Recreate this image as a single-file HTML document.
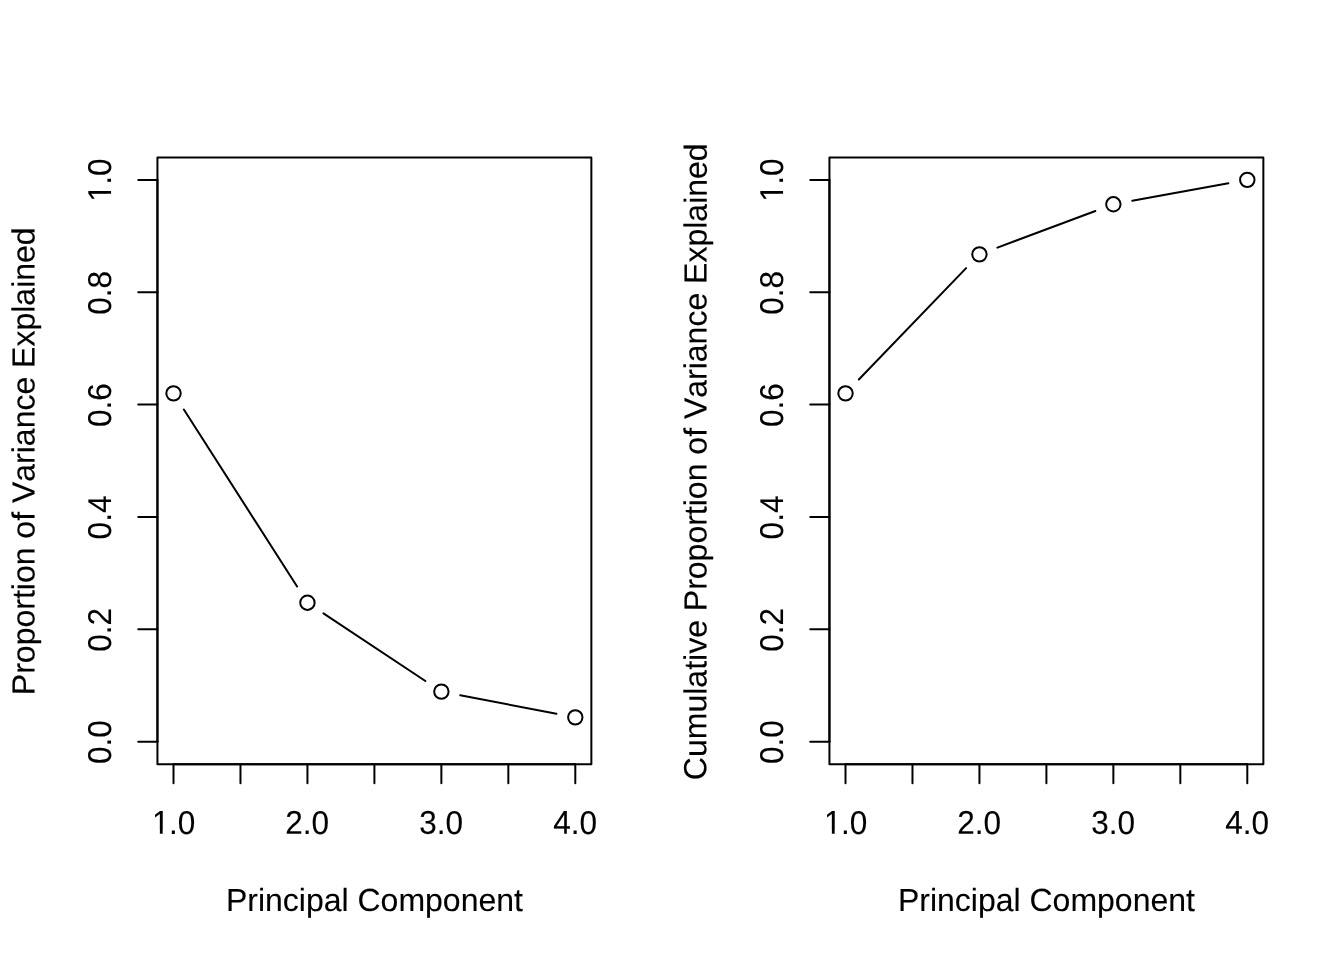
<!DOCTYPE html>
<html lang="en">
<head>
<meta charset="utf-8">
<title>Proportion of Variance Explained</title>
<style>
html,body{margin:0;padding:0;background:#fff;}
body{width:1344px;height:960px;overflow:hidden;}
svg{display:block;}
.g line,.g rect,.g circle{fill:none;stroke:#000;stroke-width:2;stroke-linecap:round;stroke-linejoin:round;}
.t .m{fill:#fff;stroke:none;}
.t text{font-family:"Liberation Sans",sans-serif;font-size:32px;fill:#000;text-anchor:middle;font-kerning:none;stroke:#000;stroke-width:0.1px;stroke-linejoin:round;}
</style>
</head>
<body>
<svg width="1344" height="960" viewBox="0 0 1344 960">
<rect width="1344" height="960" fill="#ffffff"/>
<g class="g">
<line x1="183.86" y1="409.53" x2="297.09" y2="586.51"/>
<line x1="323.43" y1="613.30" x2="425.37" y2="680.99"/>
<line x1="460.22" y1="695.23" x2="556.43" y2="713.71"/>
<circle cx="173.51" cy="393.35" r="7.2"/>
<circle cx="307.44" cy="602.68" r="7.2"/>
<circle cx="441.36" cy="691.61" r="7.2"/>
<circle cx="575.29" cy="717.33" r="7.2"/>
<line x1="173.51" y1="764.16" x2="575.29" y2="764.16"/>
<line x1="173.51" y1="764.16" x2="173.51" y2="783.36"/>
<line x1="240.47" y1="764.16" x2="240.47" y2="783.36"/>
<line x1="307.44" y1="764.16" x2="307.44" y2="783.36"/>
<line x1="374.40" y1="764.16" x2="374.40" y2="783.36"/>
<line x1="441.36" y1="764.16" x2="441.36" y2="783.36"/>
<line x1="508.33" y1="764.16" x2="508.33" y2="783.36"/>
<line x1="575.29" y1="764.16" x2="575.29" y2="783.36"/>
<line x1="157.44" y1="741.69" x2="157.44" y2="179.91"/>
<line x1="157.44" y1="741.69" x2="138.24" y2="741.69"/>
<line x1="157.44" y1="629.33" x2="138.24" y2="629.33"/>
<line x1="157.44" y1="516.98" x2="138.24" y2="516.98"/>
<line x1="157.44" y1="404.62" x2="138.24" y2="404.62"/>
<line x1="157.44" y1="292.27" x2="138.24" y2="292.27"/>
<line x1="157.44" y1="179.91" x2="138.24" y2="179.91"/>
<rect x="157.44" y="157.44" width="433.92" height="606.72"/>
</g>
<g class="t">
<g transform="translate(173.31,833.88) rotate(0.03) scale(0.985,1.03)"><text x="-21.64 -4.45 4.45" style="text-anchor:start">1.0</text><rect class="m" x="-20.01" y="-3.3" width="6.40" height="4.3"/><rect class="m" x="-10.76" y="-3.3" width="6.14" height="4.3"/></g>
<text transform="translate(307.24,833.88) rotate(0.03) scale(0.985,1.03)">2.0</text>
<text transform="translate(441.16,833.88) rotate(0.03) scale(0.985,1.03)">3.0</text>
<text transform="translate(575.09,833.88) rotate(0.03) scale(0.985,1.03)">4.0</text>
<text transform="translate(111.06,742.19) rotate(-89.97) scale(0.985,1.03)">0.0</text>
<text transform="translate(111.06,629.83) rotate(-89.97) scale(0.985,1.03)">0.2</text>
<text transform="translate(111.06,517.48) rotate(-89.97) scale(0.985,1.03)">0.4</text>
<text transform="translate(111.06,405.12) rotate(-89.97) scale(0.985,1.03)">0.6</text>
<text transform="translate(111.06,292.77) rotate(-89.97) scale(0.985,1.03)">0.8</text>
<g transform="translate(111.06,180.41) rotate(-89.97) scale(0.985,1.03)"><text x="-21.64 -4.45 4.45" style="text-anchor:start">1.0</text><rect class="m" x="-20.01" y="-3.3" width="6.40" height="4.3"/><rect class="m" x="-10.76" y="-3.3" width="6.14" height="4.3"/></g>
<text transform="translate(374.40,910.98) rotate(0.03)">Principal Component</text>
<text transform="translate(34.50,461.25) rotate(-89.97)">Proportion of Variance Explained</text>
</g>
<g class="g">
<line x1="858.83" y1="379.53" x2="966.12" y2="268.17"/>
<line x1="997.42" y1="247.62" x2="1095.38" y2="210.99"/>
<line x1="1132.25" y1="200.83" x2="1228.40" y2="183.35"/>
<circle cx="845.51" cy="393.35" r="7.2"/>
<circle cx="979.44" cy="254.35" r="7.2"/>
<circle cx="1113.36" cy="204.27" r="7.2"/>
<circle cx="1247.29" cy="179.91" r="7.2"/>
<line x1="845.51" y1="764.16" x2="1247.29" y2="764.16"/>
<line x1="845.51" y1="764.16" x2="845.51" y2="783.36"/>
<line x1="912.47" y1="764.16" x2="912.47" y2="783.36"/>
<line x1="979.44" y1="764.16" x2="979.44" y2="783.36"/>
<line x1="1046.40" y1="764.16" x2="1046.40" y2="783.36"/>
<line x1="1113.36" y1="764.16" x2="1113.36" y2="783.36"/>
<line x1="1180.33" y1="764.16" x2="1180.33" y2="783.36"/>
<line x1="1247.29" y1="764.16" x2="1247.29" y2="783.36"/>
<line x1="829.44" y1="741.69" x2="829.44" y2="179.91"/>
<line x1="829.44" y1="741.69" x2="810.24" y2="741.69"/>
<line x1="829.44" y1="629.33" x2="810.24" y2="629.33"/>
<line x1="829.44" y1="516.98" x2="810.24" y2="516.98"/>
<line x1="829.44" y1="404.62" x2="810.24" y2="404.62"/>
<line x1="829.44" y1="292.27" x2="810.24" y2="292.27"/>
<line x1="829.44" y1="179.91" x2="810.24" y2="179.91"/>
<rect x="829.44" y="157.44" width="433.92" height="606.72"/>
</g>
<g class="t">
<g transform="translate(845.31,833.88) rotate(0.03) scale(0.985,1.03)"><text x="-21.64 -4.45 4.45" style="text-anchor:start">1.0</text><rect class="m" x="-20.01" y="-3.3" width="6.40" height="4.3"/><rect class="m" x="-10.76" y="-3.3" width="6.14" height="4.3"/></g>
<text transform="translate(979.24,833.88) rotate(0.03) scale(0.985,1.03)">2.0</text>
<text transform="translate(1113.16,833.88) rotate(0.03) scale(0.985,1.03)">3.0</text>
<text transform="translate(1247.09,833.88) rotate(0.03) scale(0.985,1.03)">4.0</text>
<text transform="translate(783.06,742.19) rotate(-89.97) scale(0.985,1.03)">0.0</text>
<text transform="translate(783.06,629.83) rotate(-89.97) scale(0.985,1.03)">0.2</text>
<text transform="translate(783.06,517.48) rotate(-89.97) scale(0.985,1.03)">0.4</text>
<text transform="translate(783.06,405.12) rotate(-89.97) scale(0.985,1.03)">0.6</text>
<text transform="translate(783.06,292.77) rotate(-89.97) scale(0.985,1.03)">0.8</text>
<g transform="translate(783.06,180.41) rotate(-89.97) scale(0.985,1.03)"><text x="-21.64 -4.45 4.45" style="text-anchor:start">1.0</text><rect class="m" x="-20.01" y="-3.3" width="6.40" height="4.3"/><rect class="m" x="-10.76" y="-3.3" width="6.14" height="4.3"/></g>
<text transform="translate(1046.40,910.98) rotate(0.03)">Principal Component</text>
<text transform="translate(706.50,461.75) rotate(-89.97)">Cumulative Proportion of Variance Explained</text>
</g>
</svg>
</body>
</html>
